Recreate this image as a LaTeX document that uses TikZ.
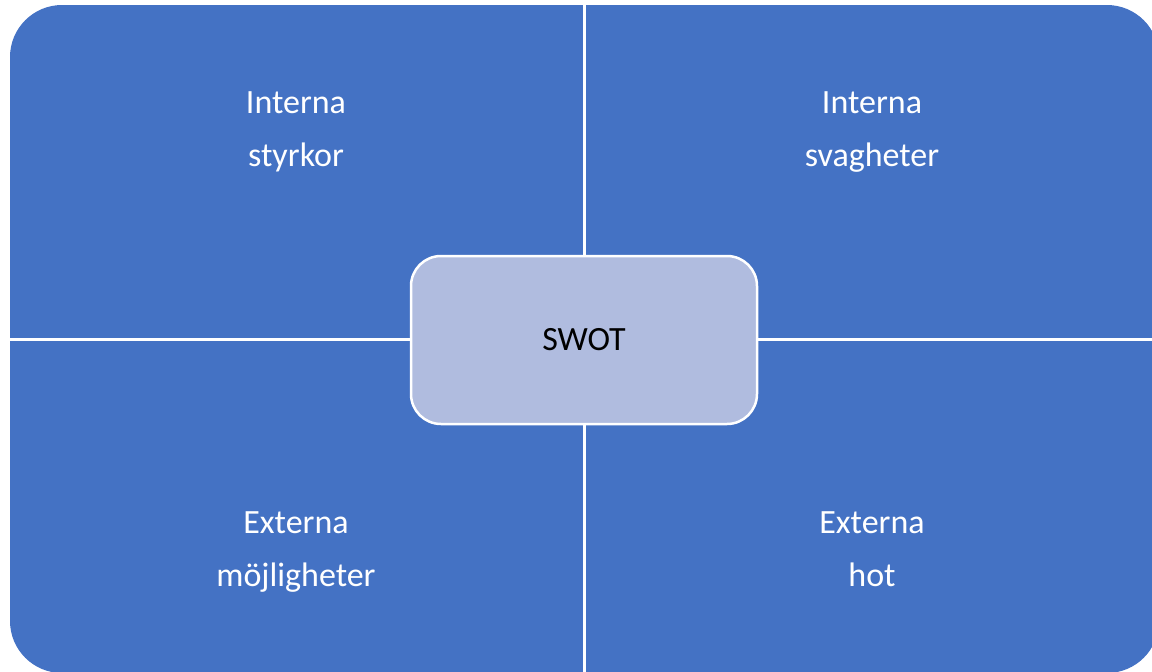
\documentclass[tikz,border=0pt]{standalone}
\usepackage{fontspec}
\setmainfont{Carlito}
\definecolor{swotblue}{RGB}{68,114,196}
\definecolor{swotcenter}{RGB}{176,188,223}
\tikzset{
  quadlbl/.style={text=white, font=\fontsize{34}{41}\selectfont, anchor=base, inner sep=0pt},
  centerbox/.style={draw=white, line width=2.5pt, fill=swotcenter, rounded corners=30pt,
     minimum width=346pt, minimum height=168pt, inner sep=0pt},
  centerlbl/.style={anchor=base, inner sep=0pt, font=\fontsize{34}{41}\selectfont, text=black},
  divider/.style={draw=white, line width=3pt}
}
\begin{document}
\begin{tikzpicture}[x=1pt,y=-1pt]
\useasboundingbox (0,0) rectangle (1152,672);
\begin{scope}
  \clip (0,0) rectangle (1152,672);
  \fill[swotblue, rounded corners=52pt] (10,5) rectangle (1159,673);
\end{scope}
\coordinate (ctop) at (584,0);
\coordinate (cbot) at (584,672);
\coordinate (cleft) at (0,339);
\coordinate (cright) at (1152,339);
\draw[divider] (ctop) -- (cbot);
\draw[divider] (cleft) -- (cright);
\node[centerbox] (swot) at (584,340) {};
\node[centerlbl] (swottxt) at (584,350) {SWOT};
\node[quadlbl] (s1) at (296,113) {Interna};
\node[quadlbl] (s2) at (296,166) {styrkor};
\node[quadlbl] (w1) at (872,113) {Interna};
\node[quadlbl] (w2) at (872,166) {svagheter};
\node[quadlbl] (o1) at (296,533) {Externa};
\node[quadlbl] (o2) at (296,586) {möjligheter};
\node[quadlbl] (t1) at (872,533) {Externa};
\node[quadlbl] (t2) at (872,586) {hot};
\end{tikzpicture}
\end{document}
